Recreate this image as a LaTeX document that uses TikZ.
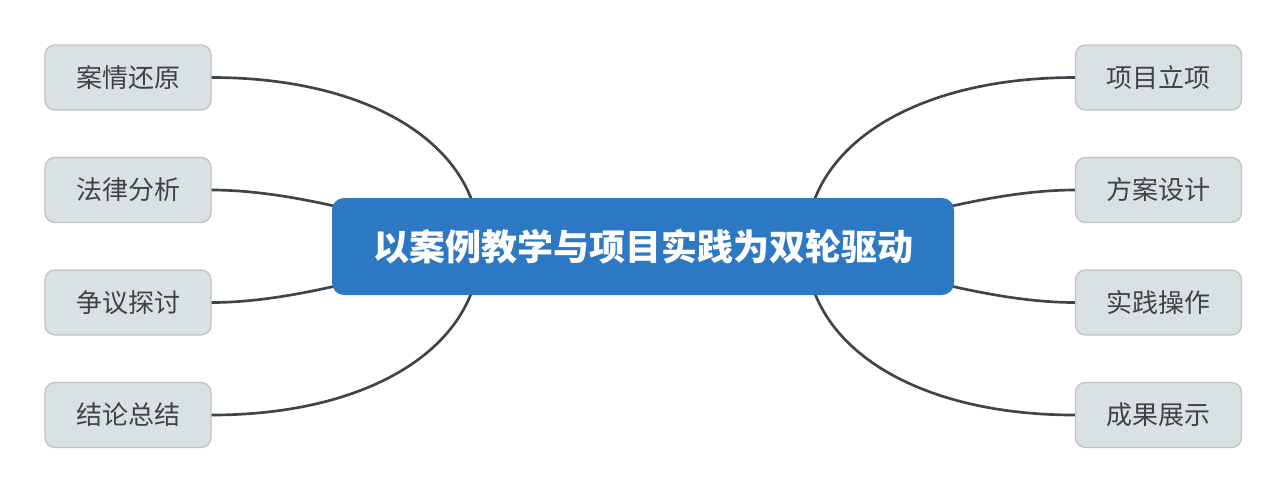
\documentclass[tikz,border=0pt]{standalone}
\usepackage{fontspec}
\newfontfamily\cjk{Noto Sans CJK SC}
\newfontfamily\cjkbold{Noto Sans CJK SC Black}
\usepackage{xcolor}
\definecolor{rootblue}{HTML}{2C78C2}
\definecolor{boxfill}{HTML}{DAE1E3}
\definecolor{boxline}{HTML}{BFC3C5}
\definecolor{txtgray}{HTML}{3E4349}
\definecolor{linkgray}{HTML}{3D444C}
\tikzset{
  topic/.style={draw=boxline,line width=1pt,fill=boxfill,rounded corners=7.5pt,
    minimum width=124.5pt,minimum height=48.75pt,inner sep=0pt,
    text=txtgray,font=\cjk\fontsize{19.5pt}{19.5pt}\selectfont},
  central/.style={fill=rootblue,rounded corners=9pt,
    minimum width=466.5pt,minimum height=72.75pt,inner sep=0pt,
    text=white,font=\cjkbold\fontsize{27pt}{27pt}\selectfont},
  link/.style={draw=linkgray,line width=2pt}
}
\begin{document}
\begin{tikzpicture}[x=0.75pt,y=-0.75pt]
    \useasboundingbox (0,0) rectangle (1287,494);
    \coordinate (hubL) at (480,246);
    \coordinate (hubR) at (806,246);
    % left side
    \node[topic] (c1) at (128,77.5) {案情还原};
    \node[topic] (c2) at (128,190) {法律分析};
    \node[topic] (c3) at (128,302.5) {争议探讨};
    \node[topic] (c4) at (128,415) {结论总结};
    % right side
    \node[topic] (p1) at (1158.5,77.5) {项目立项};
    \node[topic] (p2) at (1158.5,190) {方案设计};
    \node[topic] (p3) at (1158.5,302.5) {实践操作};
    \node[topic] (p4) at (1158.5,415) {成果展示};
    \draw[link] (c1.east) .. controls +(160,0) and +(0,-100) .. (hubL);
    \draw[link] (c2.east) .. controls +(90,0) and +(-70,-20) .. (hubL);
    \draw[link] (c3.east) .. controls +(90,0) and +(-70,20) .. (hubL);
    \draw[link] (c4.east) .. controls +(160,0) and +(0,100) .. (hubL);
    \draw[link] (p1.west) .. controls +(-160,0) and +(0,-100) .. (hubR);
    \draw[link] (p2.west) .. controls +(-90,0) and +(70,-20) .. (hubR);
    \draw[link] (p3.west) .. controls +(-90,0) and +(70,20) .. (hubR);
    \draw[link] (p4.west) .. controls +(-160,0) and +(0,100) .. (hubR);
    \node[central] (root) at (643,246.5) {以案例教学与项目实践为双轮驱动};
\end{tikzpicture}
\end{document}
